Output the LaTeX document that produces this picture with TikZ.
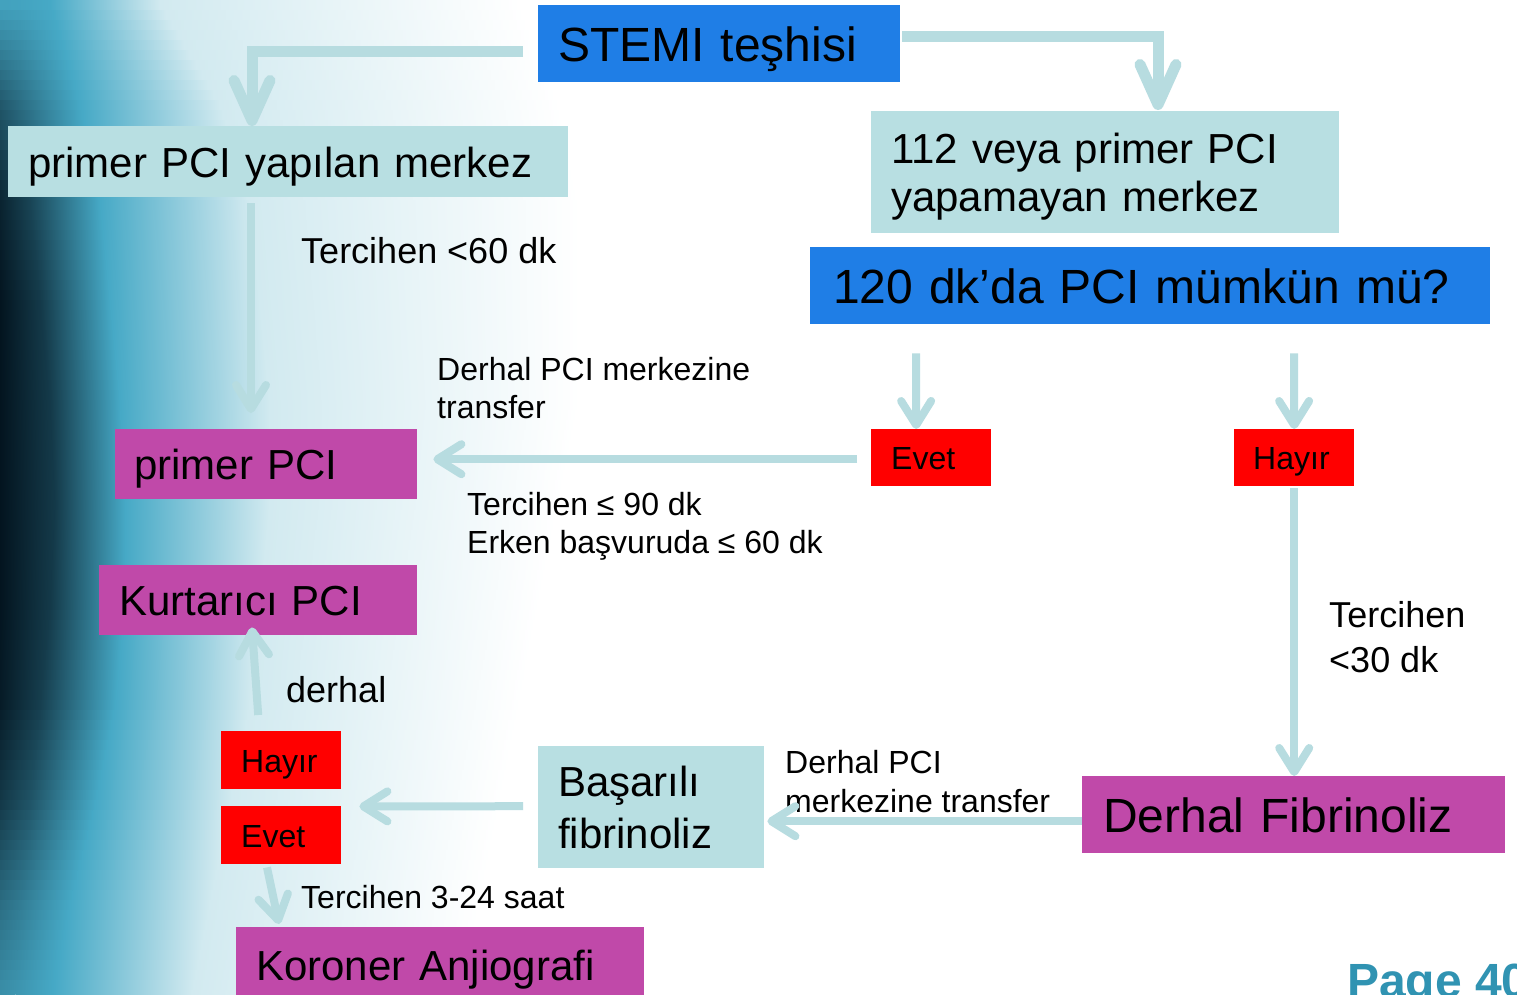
\documentclass[tikz,border=0pt]{standalone}
\usepackage{fontspec}
\setmainfont{Liberation Sans}
\usetikzlibrary{arrows.meta}
\definecolor{bluec}{HTML}{1F7EE6}
\definecolor{ltealc}{HTML}{B8DFE2}
\definecolor{arrc}{HTML}{B7DCE0}
\definecolor{magc}{HTML}{C049A9}
\definecolor{redc}{HTML}{FF0000}
\definecolor{pagec}{HTML}{3093B2}
\definecolor{navyc}{HTML}{03141F}
\definecolor{tealc}{HTML}{46A9C6}
\definecolor{lightc}{HTML}{D2EAF0}
\begin{document}
\begin{tikzpicture}[x=1pt,y=-1pt,
  bx/.style={anchor=north west, inner ysep=0pt, align=left, text=black},
  fa/.style={font=\fontsize{48}{58}\selectfont, text height=36pt, text depth=0pt},
  fb/.style={font=\fontsize{42}{50}\selectfont, text height=31.5pt, text depth=0pt},
  fc/.style={font=\fontsize{32}{38}\selectfont, text height=24pt, text depth=0pt},
  lbl/.style={anchor=base west, inner sep=0pt, align=left, text=black},
  arrthin/.style={draw=arrc, line width=8pt, -{Straight Barb[length=24pt,width=30pt,round]}},
  arrthick/.style={draw=arrc, line width=11pt, -{Straight Barb[length=40pt,width=36pt,round]}}
]
\useasboundingbox (0,0) rectangle (1517,994);
\clip (0,0) rectangle (1517,994);
\fill[white] (0,0) rectangle (1517,994);
% background gradient on the left
\def\Ad{{5,55,90,100,100,100,100,95,75,40,15}}
\def\Aa{{20,20,30,40,50,55,50,40,30,20,15}}
\def\Ab{{50,80,100,110,120,125,125,115,95,70,50}}
\def\Ac{{160,220,250,260,270,270,260,250,230,210,190}}
\def\Ae{{520,560,580,580,580,560,540,520,500,480,460}}
\foreach \i in {0,...,99}{
  \pgfmathsetmacro\yy{\i*10}
  \pgfmathtruncatemacro\k{\i/10}
  \pgfmathsetmacro\t{(\i-10*\k)/10}
  \pgfmathsetmacro\dd{\Ad[\k]*(1-\t)+\Ad[\k+1]*\t}
  \pgfmathsetmacro\ddd{0.75*\dd}
  \pgfmathsetmacro\xa{\Aa[\k]*(1-\t)+\Aa[\k+1]*\t}
  \pgfmathsetmacro\xb{\Ab[\k]*(1-\t)+\Ab[\k+1]*\t}
  \pgfmathsetmacro\xc{\Ac[\k]*(1-\t)+\Ac[\k+1]*\t}
  \pgfmathsetmacro\xe{\Ae[\k]*(1-\t)+\Ae[\k+1]*\t}
  \colorlet{cE}{navyc!\dd!tealc}
  \colorlet{cF}{navyc!\ddd!tealc}
  \shade[left color=cE,right color=cF] (0,\yy) rectangle (\xa,\yy+11);
  \shade[left color=cF,right color=tealc] (\xa,\yy) rectangle (\xb,\yy+11);
  \shade[left color=tealc,right color=lightc] (\xb,\yy) rectangle (\xc,\yy+11);
  \shade[left color=lightc,right color=white] (\xc,\yy) rectangle (\xe,\yy+11);
}
% boxes
\node[bx,fa,fill=bluec,minimum width=362pt,minimum height=77pt,text width=322pt,inner xsep=20pt] (stemi) at (538,5) {STEMI teşhisi};
\node[bx,fb,fill=ltealc,minimum width=560pt,minimum height=71pt,text width=520pt,inner xsep=20pt] (ppm) at (8,126) {primer PCI yapılan merkez};
\node[bx,font=\fontsize{42}{48}\selectfont,text height=31.5pt,text depth=48pt,fill=ltealc,minimum width=468pt,minimum height=122pt,text width=428pt,inner xsep=20pt] (nopci) at (871,111) {112 veya primer PCI\\yapamayan merkez};
\node[bx,fa,fill=bluec,minimum width=680pt,minimum height=77pt,text width=634pt,inner xsep=23pt] (q120) at (810,247) {120 dk’da PCI mümkün mü?};
\node[bx,fb,fill=magc,minimum width=302pt,minimum height=70pt,text width=264pt,inner xsep=19pt] (ppci) at (115,429) {primer PCI};
\node[bx,fc,fill=redc,minimum width=120pt,minimum height=57pt,text width=80pt,inner xsep=20pt] (evet1) at (871,429) {Evet};
\node[bx,fc,fill=redc,minimum width=120pt,minimum height=57pt,text width=82pt,inner xsep=19pt] (hayir1) at (1234,429) {Hayır};
\node[bx,fb,fill=magc,minimum width=318pt,minimum height=70pt,text width=278pt,inner xsep=20pt] (kpci) at (99,565) {Kurtarıcı PCI};
\node[bx,fc,fill=redc,minimum width=120pt,minimum height=58pt,text width=80pt,inner xsep=20pt] (hayir2) at (221,731) {Hayır};
\node[bx,fc,fill=redc,minimum width=120pt,minimum height=58pt,text width=80pt,inner xsep=20pt] (evet2) at (221,806) {Evet};
\node[bx,font=\fontsize{42}{52}\selectfont,text height=31.5pt,text depth=52pt,fill=ltealc,minimum width=226pt,minimum height=122pt,text width=186pt,inner xsep=20pt] (basarili) at (538,746) {Başarılı\\fibrinoliz};
\node[bx,fa,fill=magc,minimum width=423pt,minimum height=77pt,text width=381pt,inner xsep=21pt] (dfib) at (1082,776) {Derhal Fibrinoliz};
\node[bx,fb,fill=magc,minimum width=408pt,minimum height=76pt,text width=368pt,inner xsep=20pt] (koroner) at (236,927) {Koroner Anjiografi};
% labels (base anchor = baseline of the last line)
\node[lbl,font=\fontsize{36}{43}\selectfont] (l60) at (301,263) {Tercihen <60 dk};
\node[lbl,font=\fontsize{32}{38}\selectfont] (ltr1) at (437,418) {Derhal PCI merkezine\\transfer};
\node[lbl,font=\fontsize{32}{38}\selectfont] (l90) at (467,553) {Tercihen ≤ 90 dk\\Erken başvuruda ≤ 60 dk};
\node[lbl,font=\fontsize{36}{43}\selectfont] (lderhal) at (286,702) {derhal};
\node[lbl,font=\fontsize{36}{45}\selectfont] (l30) at (1329,672) {Tercihen\\<30 dk};
\node[lbl,font=\fontsize{32}{39}\selectfont] (ltr2) at (785,812) {Derhal PCI\\merkezine transfer};
\node[lbl,font=\fontsize{32}{38}\selectfont] (l324) at (301,908) {Tercihen 3-24 saat};
\node[lbl,font=\fontsize{48}{58}\selectfont\bfseries,text=pagec] (page) at (1347,997) {Page 40};
% connectors
\draw[arrthick] ([xshift=-15pt,yshift=-7.5pt]stemi.west) -| ([xshift=244pt]ppm.north west);
\draw[arrthick] ([xshift=2pt,yshift=7.5pt]stemi.east) -| ([xshift=287pt,yshift=1pt]nopci.north west);
\draw[arrthin] ([xshift=243pt,yshift=-6pt]ppm.south west) -- ([xshift=136pt,yshift=16pt]ppci.north west);
\draw[arrthin] ([xshift=106pt,yshift=-29pt]q120.south west) -- ([xshift=-15pt]evet1.north);
\draw[arrthin] ([xshift=484pt,yshift=-29pt]q120.south west) -- (hayir1.north);
\draw[arrthin] ([xshift=-14pt,yshift=-1.5pt]evet1.west) -- ([xshift=16pt,yshift=5pt]ppci.east);
\draw[arrthin] ([yshift=-2pt]hayir1.south) -- (dfib.north -| hayir1.south);
\draw[arrthin] ([yshift=-6.5pt]dfib.west) -- ([xshift=3pt,yshift=-14pt]basarili.east);
\draw[arrthin] ([xshift=-15pt,yshift=1pt]basarili.west) -- ([xshift=18pt,yshift=-17pt]hayir2.south east);
\draw[arrthin] ([xshift=-23pt,yshift=16pt]hayir2.north) -- ([xshift=153pt,yshift=8pt]kpci.south west);
\draw[arrthin] ([xshift=46pt,yshift=-3pt]evet2.south west) -- ([xshift=43pt,yshift=3pt]koroner.north west);
\end{tikzpicture}
\end{document}
